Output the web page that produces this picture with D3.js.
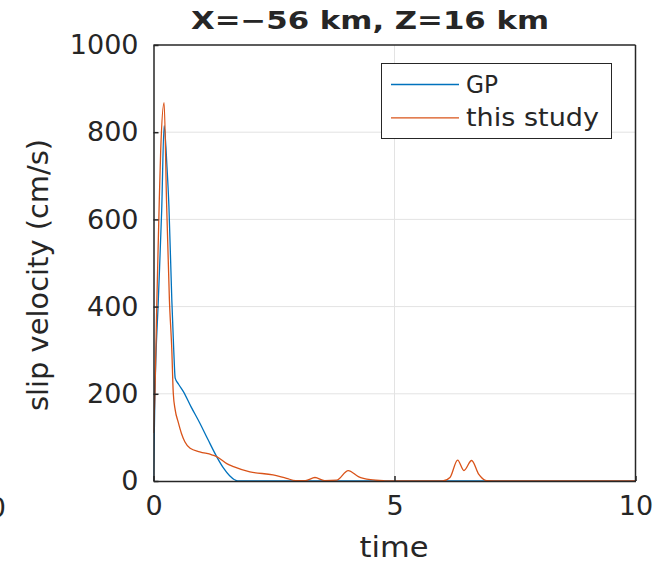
<!DOCTYPE html>
<html>
<head>
<meta charset="utf-8">
<script src="https://cdn.jsdelivr.net/npm/d3@7"></script>
<style>
  body { margin: 0; background: #fff; }
  svg text { font-family: "DejaVu Sans", sans-serif; fill: #262626; }
</style>
</head>
<body>
<svg id="chart" width="659" height="563"></svg>
<script>
// data
var gpTime = [0, 0.03, 0.1, 0.17, 0.22, 0.28, 0.32, 0.38, 0.42, 0.45, 0.52, 0.62, 0.78, 0.96, 1.13, 1.31, 1.45, 1.58, 1.68, 1.75, 10];
var gpVel  = [0, 200, 415, 621, 815, 720, 630, 415, 300, 236, 222, 205, 170, 133, 95, 56, 30, 12, 3, 0, 0];

var studyTime = [0, 0.03, 0.07, 0.12, 0.15, 0.22, 0.27, 0.33, 0.38, 0.41, 0.45, 0.51, 0.58, 0.65, 0.76, 0.96, 1.21, 1.31, 1.52, 1.66, 2.0, 2.48, 2.76, 2.95, 3.15, 3.35, 3.55, 3.8, 4.04, 4.25, 4.5, 4.8, 5.0, 6.0, 6.15, 6.31, 6.44, 6.6, 6.75, 6.91, 7.2, 10];
var studyVel  = [110, 202, 415, 644, 760, 868, 644, 415, 300, 202, 163, 136, 109, 90, 75, 67, 60, 56, 40, 33, 21, 14, 6, 1, 1, 8, 1, 2, 24, 10, 3, 0.5, 0, 0, 8, 48, 24, 47, 15, 1, 0, 0];

var xTicks = [0, 5, 10];
var yTicks = [0, 200, 400, 600, 800, 1000];

var seriesNames = ["GP", "this study"];
var seriesColors = ["#0072BD", "#D95319"];

var svg = d3.select("#chart");
var plotLeft = 153.5, plotRight = 635.5, plotTop = 45, plotBottom = 481;

var x = d3.scaleLinear().domain([0, 10]).range([plotLeft, plotRight]);
var y = d3.scaleLinear().domain([0, 1000]).range([plotBottom, plotTop]);

// grid
svg.append("g").selectAll("line").data(yTicks.slice(1, -1)).enter().append("line")
  .attr("x1", plotLeft).attr("x2", plotRight)
  .attr("y1", function(d) { return y(d); }).attr("y2", function(d) { return y(d); })
  .attr("stroke", "#e3e3e3").attr("stroke-width", 1);
svg.append("g").selectAll("line").data(xTicks.slice(1, -1)).enter().append("line")
  .attr("y1", plotTop).attr("y2", plotBottom)
  .attr("x1", function(d) { return x(d); }).attr("x2", function(d) { return x(d); })
  .attr("stroke", "#e3e3e3").attr("stroke-width", 1);

// lines
svg.append("clipPath").attr("id", "clip").append("rect")
  .attr("x", plotLeft).attr("y", plotTop).attr("width", plotRight - plotLeft).attr("height", plotBottom - plotTop);

var line = d3.line()
  .x(function(d) { return x(d[0]); })
  .y(function(d) { return y(d[1]); })
  .curve(d3.curveMonotoneX);

var gpData = gpTime.map(function(t, i) { return [t, gpVel[i]]; });
var studyData = studyTime.map(function(t, i) { return [t, studyVel[i]]; });

var plotG = svg.append("g").attr("clip-path", "url(#clip)");
plotG.append("path").datum(gpData).attr("d", line)
  .attr("fill", "none").attr("stroke", seriesColors[0]).attr("stroke-width", 1.3);
plotG.append("path").datum(studyData).attr("d", line)
  .attr("fill", "none").attr("stroke", seriesColors[1]).attr("stroke-width", 1.3);

// axes (MATLAB style, ticks inward, box on)
var xAxis = d3.axisBottom(x).tickValues(xTicks).tickFormat(d3.format("d"))
  .tickSizeInner(-5).tickSizeOuter(0).tickPadding(14);
var yAxis = d3.axisLeft(y).tickValues(yTicks).tickFormat(d3.format("d"))
  .tickSizeInner(-5).tickSizeOuter(0).tickPadding(15);

var gx = svg.append("g").attr("transform", "translate(0," + plotBottom + ")").call(xAxis);
var gy = svg.append("g").attr("transform", "translate(" + plotLeft + ",0)").call(yAxis);
[gx, gy].forEach(function(g) {
  g.select(".domain").attr("stroke", "#262626").attr("stroke-width", 1.5);
  g.selectAll(".tick line").attr("stroke", "#262626").attr("stroke-width", 1.5);
  g.selectAll(".tick text").attr("font-size", 27).attr("font-family", "DejaVu Sans").attr("fill", "#262626");
});
gx.selectAll(".tick text").attr("dy", "0.75em");

// top & right box edges
svg.append("line").attr("x1", plotLeft).attr("x2", plotRight).attr("y1", plotTop).attr("y2", plotTop)
  .attr("stroke", "#262626").attr("stroke-width", 1.5);
svg.append("line").attr("x1", plotRight).attr("x2", plotRight).attr("y1", plotTop).attr("y2", plotBottom)
  .attr("stroke", "#262626").attr("stroke-width", 1.5);

// neighbouring subplot's tick label peeking in from the left
svg.append("text").attr("x", 6).attr("y", 517).attr("text-anchor", "end")
  .attr("font-size", 27).text("0");

// title and labels
svg.append("text").attr("x", 370).attr("y", 29).attr("text-anchor", "middle")
  .attr("font-size", 25).attr("font-weight", "bold")
  .attr("textLength", 358).attr("lengthAdjust", "spacingAndGlyphs")
  .text("X=\u221256 km, Z=16 km");

svg.append("text").attr("x", 394).attr("y", 557).attr("text-anchor", "middle")
  .attr("font-size", 29).attr("textLength", 69).attr("lengthAdjust", "spacingAndGlyphs")
  .text("time");

svg.append("text")
  .attr("transform", "translate(48,275) rotate(-90)")
  .attr("text-anchor", "middle").attr("font-size", 28)
  .attr("textLength", 272).attr("lengthAdjust", "spacingAndGlyphs")
  .text("slip velocity (cm/s)");

// legend
var legendWidths = [32, 133];
var lg = svg.append("g");
lg.append("rect").attr("x", 381.5).attr("y", 63.5).attr("width", 230).attr("height", 75)
  .attr("fill", "#fff").attr("stroke", "#262626").attr("stroke-width", 1);
seriesNames.forEach(function(name, i) {
  var ly = 84.5 + i * 33.3;
  lg.append("line").attr("x1", 391).attr("x2", 459).attr("y1", ly).attr("y2", ly)
    .attr("stroke", seriesColors[i]).attr("stroke-width", 1.3);
  lg.append("text").attr("x", 466).attr("y", ly + 8.5).attr("font-size", 25)
    .attr("textLength", legendWidths[i]).attr("lengthAdjust", "spacingAndGlyphs")
    .text(name);
});
</script>
</body>
</html>
